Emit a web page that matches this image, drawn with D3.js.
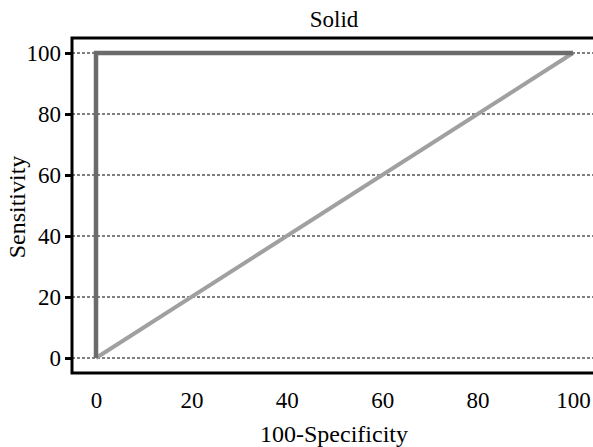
<!DOCTYPE html>
<html>
  <head>
    <meta charset="utf-8">
    <title>Solid</title>
    <script src="https://cdn.jsdelivr.net/npm/d3@7"></script>
    <style>
      body { margin: 0; background: #fff; }
      svg text { font-family: "Liberation Serif", "Times New Roman", serif; fill: #000; }
    </style>
  </head>
  <body>
    <svg class="chart"></svg>
    <script>

    // ROC curve and reference diagonal
    var rocX = [0, 0, 100],
        rocY = [0, 100, 100];
    var diagX = [0, 100],
        diagY = [0, 100];
    var xTicks = [0, 20, 40, 60, 80, 100],
        yTicks = [0, 20, 40, 60, 80, 100];

    var width = 593,
        height = 447;

    var x = d3.scaleLinear().domain([0, 100]).range([96, 573]);
    var y = d3.scaleLinear().domain([0, 100]).range([358, 53]);

    var frameLeft = 72, frameTop = 38, frameBottom = 373, frameRight = 620;

    var svg = d3.select(".chart")
      .attr("width", width)
      .attr("height", height);

    // dashed grid lines
    svg.selectAll("line.grid")
      .data(yTicks)
      .enter().append("line")
      .attr("class", "grid")
      .attr("x1", frameLeft)
      .attr("x2", frameRight)
      .attr("y1", function(d) { return y(d); })
      .attr("y2", function(d) { return y(d); })
      .attr("stroke", "#000")
      .attr("stroke-width", 1)
      .attr("stroke-dasharray", "3,2");

    // frame (right side runs off the picture)
    svg.append("path")
      .attr("d", "M" + frameRight + "," + frameTop + "H" + frameLeft + "V" + frameBottom + "H" + frameRight)
      .attr("fill", "none")
      .attr("stroke", "#000")
      .attr("stroke-width", 3);

    // y axis
    var yAxis = svg.append("g")
      .attr("transform", "translate(" + frameLeft + ",0)")
      .call(d3.axisLeft(y).tickValues(yTicks).tickSize(7).tickPadding(4));
    yAxis.select(".domain").remove();
    yAxis.selectAll(".tick line").attr("stroke", "#000").attr("stroke-width", 3);
    yAxis.selectAll(".tick text").attr("font-size", 23).attr("dy", "0.34em");

    // x axis (labels only)
    var xAxis = svg.append("g")
      .attr("transform", "translate(0," + frameBottom + ")")
      .call(d3.axisBottom(x).tickValues(xTicks).tickSize(0).tickPadding(19));
    xAxis.select(".domain").remove();
    xAxis.selectAll(".tick text").attr("font-size", 23);

    var line = d3.line()
      .x(function(d) { return x(d[0]); })
      .y(function(d) { return y(d[1]); });

    svg.append("path")
      .datum(d3.zip(diagX, diagY))
      .attr("d", line)
      .attr("fill", "none")
      .attr("stroke", "#a0a0a0")
      .attr("stroke-width", 4);

    svg.append("path")
      .datum(d3.zip(rocX, rocY))
      .attr("d", line)
      .attr("fill", "none")
      .attr("stroke", "#6b6b6b")
      .attr("stroke-width", 4.5);

    svg.append("text")
      .attr("x", 334)
      .attr("y", 27)
      .attr("text-anchor", "middle")
      .attr("font-size", 23)
      .text("Solid");

    svg.append("text")
      .attr("x", 334)
      .attr("y", 442)
      .attr("text-anchor", "middle")
      .attr("font-size", 24)
      .text("100-Specificity");

    svg.append("text")
      .attr("transform", "translate(25,207) rotate(-90)")
      .attr("text-anchor", "middle")
      .attr("font-size", 24)
      .text("Sensitivity");

    </script>
  </body>
</html>
